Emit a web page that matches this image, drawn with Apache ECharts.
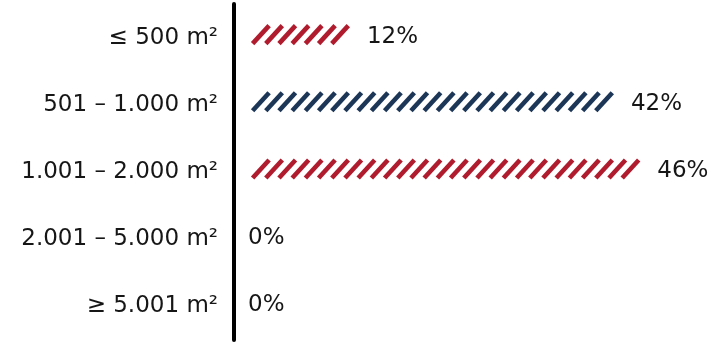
<!DOCTYPE html>
<html>
<head>
<meta charset="utf-8">
<script src="https://cdn.jsdelivr.net/npm/echarts@6/dist/echarts.min.js"></script>
<style>
  html, body { margin: 0; padding: 0; background: #fff; }
  #chart { width: 720px; height: 342px; }
</style>
</head>
<body>
<div id="chart"></div>
<script>
// Plot size classes and their share of sites
const categories = ['≤ 500 m²', '501 – 1.000 m²', '1.001 – 2.000 m²', '2.001 – 5.000 m²', '≥ 5.001 m²'];
const shares = [12, 42, 46, 0, 0];

// Bar colours per row
const RED = '#b01b2d';
const NAVY = '#1c3657';
const rowColors = [RED, NAVY, RED, RED, RED];

const FONT_FAMILY = '"DejaVu Sans", sans-serif';
const TEXT_COLOR = '#161616';
const FONT_SIZE = 23;

// Hatch stroke geometry (pixels)
const STROKE_SPACING = 13.2;
const STROKE_RUN = 16.5;
const STROKE_RISE = 18;
const STROKE_WIDTH = 4.6;
const CAP_PAD = 1.6;

function renderHatchBar(params, api) {
  const idx = api.value(0);
  const v = api.value(1);
  const start = api.coord([0, idx]);
  const end = api.coord([v, idx]);
  const barY = start[1] - 3;
  const span = end[0] - start[0];
  const children = [];
  let right = start[0];
  if (v > 0) {
    const n = Math.floor((span - STROKE_RUN - 2 * CAP_PAD) / STROKE_SPACING) + 1;
    for (let i = 0; i < n; i++) {
      const x = start[0] + CAP_PAD + i * STROKE_SPACING;
      children.push({
        type: 'line',
        shape: { x1: x, y1: barY + STROKE_RISE / 2, x2: x + STROKE_RUN, y2: barY - STROKE_RISE / 2 },
        style: { stroke: rowColors[idx], lineWidth: STROKE_WIDTH, lineCap: 'butt' }
      });
    }
    right = start[0] + 2 * CAP_PAD + (n - 1) * STROKE_SPACING + STROKE_RUN;
  }
  const labelX = v > 0 ? right + 17 : start[0] - 3;
  children.push({
    type: 'text',
    x: labelX,
    y: start[1] - 1,
    style: {
      text: v + '%',
      fontSize: FONT_SIZE,
      fontFamily: FONT_FAMILY,
      fill: TEXT_COLOR,
      align: 'left',
      verticalAlign: 'middle'
    }
  });
  return { type: 'group', children: children };
}

const chart = echarts.init(document.getElementById('chart'), null, { renderer: 'canvas' });
chart.setOption({
  animation: false,
  backgroundColor: '#ffffff',
  grid: { left: 251, right: 0, top: 4, bottom: 2, containLabel: false, outerBoundsMode: 'none' },
  xAxis: { type: 'value', min: 0, max: 54, show: false },
  yAxis: {
    type: 'category',
    data: categories,
    inverse: true,
    offset: 17,
    axisLine: { show: true, onZero: false, lineStyle: { color: '#000', width: 4 } },
    axisTick: { show: false },
    splitLine: { show: false },
    axisLabel: { fontSize: FONT_SIZE, fontFamily: FONT_FAMILY, color: TEXT_COLOR, margin: 16 }
  },
  series: [{
    type: 'custom',
    renderItem: renderHatchBar,
    encode: { x: 1, y: 0 },
    data: shares.map((v, i) => [i, v])
  }]
});
</script>
</body>
</html>
